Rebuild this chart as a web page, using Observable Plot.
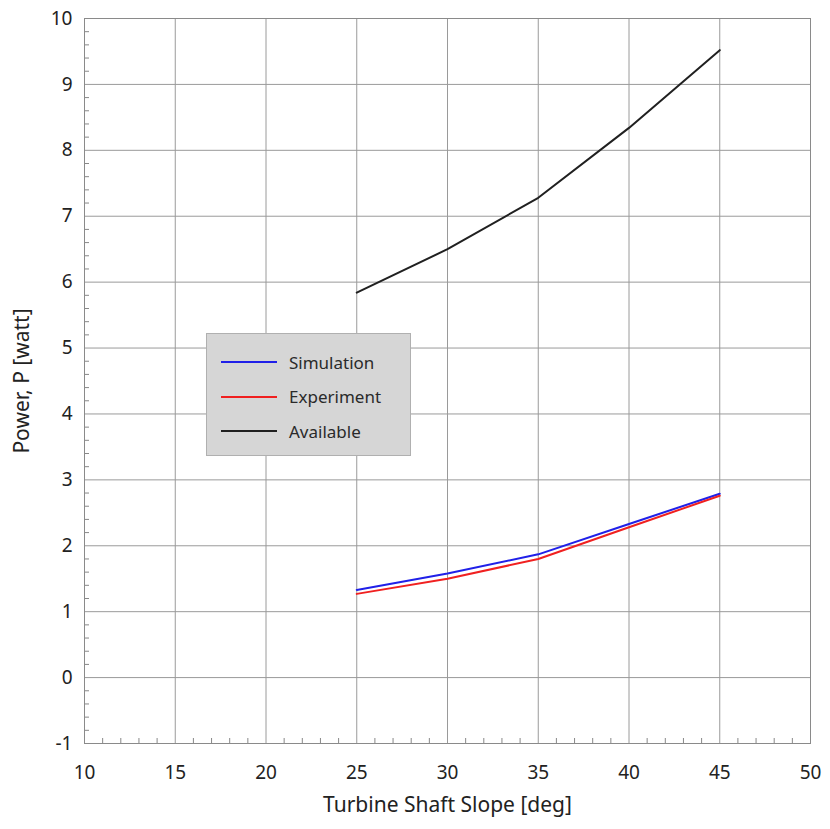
<!DOCTYPE html>
<html><head><meta charset="utf-8">
<script src="https://cdn.jsdelivr.net/npm/d3@7"></script>
<script src="https://cdn.jsdelivr.net/npm/@observablehq/plot@0.6"></script>
<style>
html,body{margin:0;padding:0;background:#fff;}
#wrap{position:relative;width:830px;height:829px;font-family:"Noto Sans","Open Sans",sans-serif;}
#legend{position:absolute;left:206px;top:333px;width:205px;height:123px;background:#d6d6d6;border:1px solid #b0b0b0;box-sizing:border-box;}
.item{position:absolute;left:14px;height:20px;display:flex;align-items:center;font-size:17px;color:#2a2a2a;}
.sw{width:56px;height:2px;margin-right:12px;}
</style></head>
<body><div id="wrap"></div>
<script>
const slope = [25, 30, 35, 40, 45];
const simulation = [1.33, 1.58, 1.87, 2.33, 2.79];
const experiment = [1.27, 1.50, 1.80, 2.28, 2.76];
const available = [5.84, 6.50, 7.28, 8.34, 9.52];
const seriesNames = ["Simulation", "Experiment", "Available"];
const seriesColors = ["#2020e8", "#f02020", "#202020"];
const xTicks = [10, 15, 20, 25, 30, 35, 40, 45, 50];
const yTicks = [-1, 0, 1, 2, 3, 4, 5, 6, 7, 8, 9, 10];

const seriesValues = [simulation, experiment, available];
const rows = seriesNames.flatMap((name, i) => slope.map((x, j) => ({series: name, x, y: seriesValues[i][j]})));
const xMinor = d3.range(10, 50.01, 1).filter(v => v % 5 !== 0);
const yMinor = d3.range(-1, 10.001, 0.2).map(v => +v.toFixed(1)).filter(v => Math.abs(v - Math.round(v)) > 1e-6);

const chart = Plot.plot({
  width: 830, height: 829,
  marginTop: 18, marginBottom: 86, marginLeft: 84, marginRight: 20,
  style: {fontSize: "19px", fontFamily: "Noto Sans, Open Sans, sans-serif", color: "#222", background: "#fff"},
  x: {domain: [10, 50], label: null},
  y: {domain: [-1, 10], label: null},
  color: {domain: seriesNames, range: seriesColors},
  marks: [
    Plot.gridX(xTicks, {stroke: "#9a9a9a", strokeOpacity: 1}),
    Plot.gridY(yTicks, {stroke: "#9a9a9a", strokeOpacity: 1}),
    Plot.axisX(xMinor, {tickSize: -5, tickFormat: () => "", stroke: "#888", label: null}),
    Plot.axisY(yMinor, {tickSize: -5, tickFormat: () => "", stroke: "#888", label: null}),
    Plot.axisX(xTicks, {tickSize: 0, tickPadding: 22, fontSize: 19, tickFormat: d => String(d), label: "Turbine Shaft Slope [deg]", labelAnchor: "center", labelArrow: "none", labelOffset: 68}),
    Plot.axisY(yTicks, {tickSize: 0, tickPadding: 12, fontSize: 19, tickFormat: d => String(d), label: "Power, P [watt]", labelAnchor: "center", labelArrow: "none", labelOffset: 70}),
    Plot.frame({stroke: "#8a8a8a"}),
    Plot.line(rows, {x: "x", y: "y", z: "series", stroke: "series", strokeWidth: 2})
  ]
});
chart.querySelectorAll("[aria-label='x-axis label'] text, [aria-label='y-axis label'] text").forEach(t => t.setAttribute("font-size", 21));
const wrap = document.getElementById("wrap");
wrap.appendChild(chart);
const leg = document.createElement("div");
leg.id = "legend";
seriesNames.forEach((n, i) => {
  const it = document.createElement("div");
  it.className = "item";
  it.style.top = (18 + i * 34.5) + "px";
  it.innerHTML = `<div class="sw" style="background:${seriesColors[i]}"></div><span>${n}</span>`;
  leg.appendChild(it);
});
wrap.appendChild(leg);
</script></body></html>
